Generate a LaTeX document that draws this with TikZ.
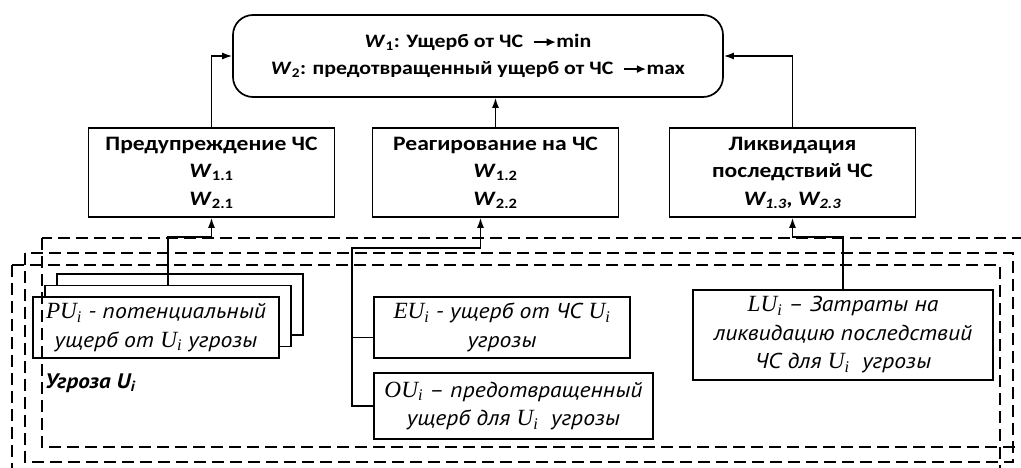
\documentclass[tikz,border=0pt]{standalone}
\usepackage{fontspec}
\usetikzlibrary{arrows.meta}
\setmainfont{Carlito}[FakeStretch=1.15]
\newfontfamily\cursif{PT Sans}[FakeStretch=1.1]
\newfontfamily\serif{Liberation Serif}[Scale=1.08]
\newcommand{\vari}[2]{{\serif\itshape #1\textsubscript{#2}}}
\newcommand{\fleche}{\tikz[baseline=-0.6ex]\draw[line width=1.4pt,-{Latex[length=9pt,width=8pt]}] (0,0) -- (22pt,0);}

\begin{document}
\begin{tikzpicture}[x=1pt,y=-1pt]
\tikzstyle{lien}=[-{Latex[length=10pt,width=7pt]},line width=1.4pt]
\tikzset{bloc/.style={draw,line width=1.7pt,fill=white,inner sep=0pt,align=center,
  minimum width=246pt,minimum height=89pt,font=\bfseries\fontsize{20.5}{27.5}\selectfont},
texte/.style={draw,line width=1.7pt,fill=white,inner sep=0pt,align=center,
  font=\cursif\itshape\fontsize{21.5}{28.5}\selectfont},
cadre/.style={line width=1.5pt,dash pattern=on 12pt off 6pt}}
\useasboundingbox (0,0) rectangle (1021,468);
\clip (0,0) rectangle (1021,468);

\node[bloc,rounded corners=20pt,minimum width=490pt,minimum height=82pt,
  font=\bfseries\fontsize{19}{27}\selectfont] (W) at (478,56)
  {\textit{W}\textsubscript{1}: Ущерб от ЧС\ \ \fleche min\\
   \textit{W}\textsubscript{2}: предотвращенный ущерб от ЧС\ \ \fleche max};

\node[bloc] (P) at (211.5,172.5) {Предупреждение ЧС\\ \textit{W}\textsubscript{1.1}\\ \textit{W}\textsubscript{2.1}};
\node[bloc] (R) at (495.5,172.5) {Реагирование на ЧС\\ \textit{W}\textsubscript{1.2}\\ \textit{W}\textsubscript{2.2}};
\node[bloc] (L) at (792.5,172.5) {Ликвидация\\ последствий ЧС\\ \textit{W\textsubscript{1.3}, W\textsubscript{2.3}}};

\node[texte,minimum width=246pt,minimum height=61pt] (PU3) at (180,304.5) {};
\node[texte,minimum width=246pt,minimum height=61pt] (PU2) at (168,316) {};
\node[texte,minimum width=246pt,minimum height=61pt] (PU) at (156,327.5)
  {\vari{PU}{i} - потенциальный\\ ущерб от \vari{U}{i} угрозы};
\node[texte,minimum width=256pt,minimum height=61pt] (EU) at (502,327.5)
  {\vari{EU}{i} - ущерб от ЧС \vari{U}{i}\\ угрозы};
\node[texte,minimum width=279pt,minimum height=66pt] (OU) at (513.5,406)
  {\vari{OU}{i} – предотвращенный\\ ущерб для \vari{U}{i}\ \ угрозы};
\node[texte,minimum width=300pt,minimum height=90pt] (LU) at (843,335)
  {\vari{LU}{i} – Затраты на\\ ликвидацию последствий\\ ЧС для \vari{U}{i}\ \ угрозы};

\node[anchor=west,inner sep=0pt,font=\cursif\bfseries\itshape\fontsize{21}{21}\selectfont] (U) at (45,383)
  {Угроза U\textsubscript{i}};

\coordinate (k1) at (168,237);
\coordinate (k2) at (352,248);
\coordinate (k3) at (843,237);

\draw[lien] (P.north) |- (W.west);
\draw[lien] (R.north) -- (R.north |- W.south);
\draw[lien] (L.north) |- (W.east);
\draw[lien] (PU2.north) -- (k1) -| (P.south);
\draw[line width=1.4pt] ([yshift=-10pt]EU.west) -| (k2);
\draw[lien] (OU.west) -| (k2) -| ([xshift=-15pt]R.south);
\draw[lien] (LU.north) -- (k3) -| (L.south);

\draw[cadre] (42,238) rectangle (1035,447);
\draw[cadre] (25,253) rectangle (1013,462);
\draw[cadre] (12,265) rectangle (1000,480);

\end{tikzpicture}
\end{document}
